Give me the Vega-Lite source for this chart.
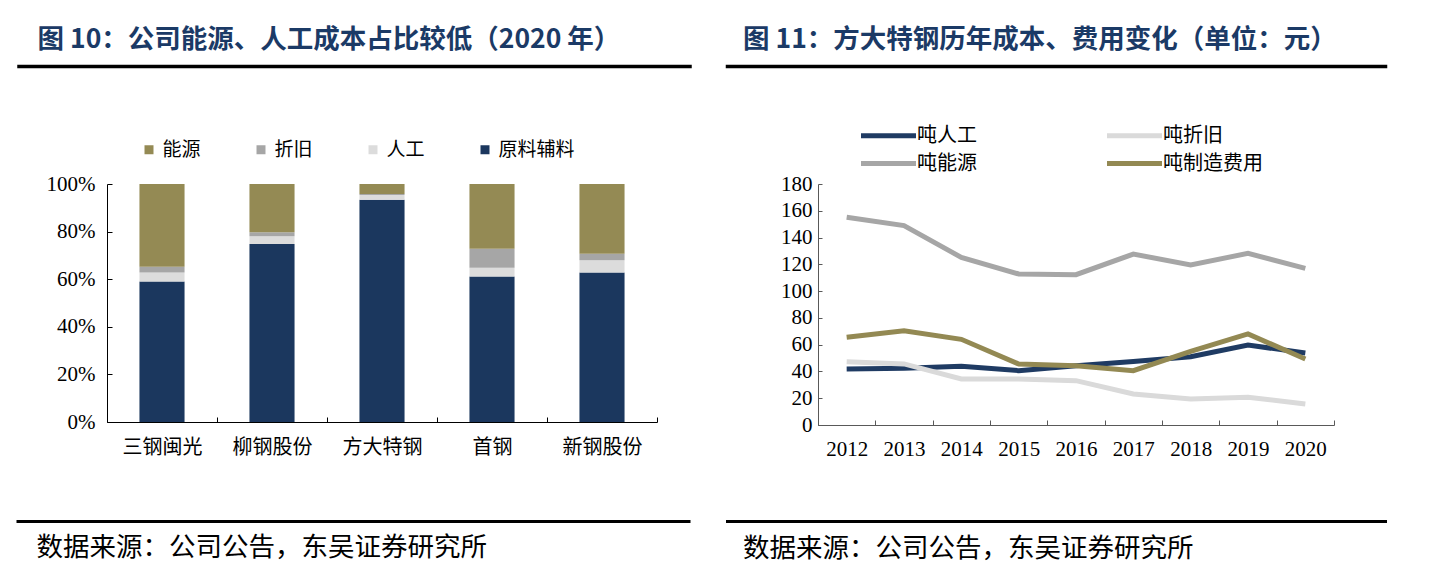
{
  "$schema": "https://vega.github.io/schema/vega-lite/v6.json",
  "background": "white",
  "padding": {"left": 0, "top": 25, "right": 5, "bottom": 5},
  "config": {
    "view": {"stroke": null},
    "font": "Noto Sans CJK SC",
    "axis": {"grid": false, "domainColor": "#000", "tickColor": "#000", "labelColor": "#000"}
  },
  "datasets": {
    "bars": [
      {"company": "三钢闽光", "part": "原料辅料", "pct": 59.0},
      {"company": "三钢闽光", "part": "人工", "pct": 3.8},
      {"company": "三钢闽光", "part": "折旧", "pct": 2.4},
      {"company": "三钢闽光", "part": "能源", "pct": 34.8},
      {"company": "柳钢股份", "part": "原料辅料", "pct": 74.8},
      {"company": "柳钢股份", "part": "人工", "pct": 3.2},
      {"company": "柳钢股份", "part": "折旧", "pct": 1.7},
      {"company": "柳钢股份", "part": "能源", "pct": 20.3},
      {"company": "方大特钢", "part": "原料辅料", "pct": 93.4},
      {"company": "方大特钢", "part": "人工", "pct": 2.0},
      {"company": "方大特钢", "part": "折旧", "pct": 0.4},
      {"company": "方大特钢", "part": "能源", "pct": 4.2},
      {"company": "首钢", "part": "原料辅料", "pct": 61.1},
      {"company": "首钢", "part": "人工", "pct": 3.7},
      {"company": "首钢", "part": "折旧", "pct": 8.0},
      {"company": "首钢", "part": "能源", "pct": 27.2},
      {"company": "新钢股份", "part": "原料辅料", "pct": 62.8},
      {"company": "新钢股份", "part": "人工", "pct": 5.2},
      {"company": "新钢股份", "part": "折旧", "pct": 2.7},
      {"company": "新钢股份", "part": "能源", "pct": 29.3}
    ],
    "lines": [
      {"year": 2012, "series": "吨人工", "value": 41.8},
      {"year": 2013, "series": "吨人工", "value": 42.3},
      {"year": 2014, "series": "吨人工", "value": 43.8},
      {"year": 2015, "series": "吨人工", "value": 40.6},
      {"year": 2016, "series": "吨人工", "value": 44.3},
      {"year": 2017, "series": "吨人工", "value": 47.5},
      {"year": 2018, "series": "吨人工", "value": 51.0},
      {"year": 2019, "series": "吨人工", "value": 59.7},
      {"year": 2020, "series": "吨人工", "value": 53.8},
      {"year": 2012, "series": "吨折旧", "value": 47.3},
      {"year": 2013, "series": "吨折旧", "value": 45.6},
      {"year": 2014, "series": "吨折旧", "value": 34.4},
      {"year": 2015, "series": "吨折旧", "value": 34.4},
      {"year": 2016, "series": "吨折旧", "value": 33.1},
      {"year": 2017, "series": "吨折旧", "value": 23.2},
      {"year": 2018, "series": "吨折旧", "value": 19.4},
      {"year": 2019, "series": "吨折旧", "value": 20.7},
      {"year": 2020, "series": "吨折旧", "value": 15.7},
      {"year": 2012, "series": "吨能源", "value": 155.1},
      {"year": 2013, "series": "吨能源", "value": 148.9},
      {"year": 2014, "series": "吨能源", "value": 125.2},
      {"year": 2015, "series": "吨能源", "value": 112.8},
      {"year": 2016, "series": "吨能源", "value": 112.3},
      {"year": 2017, "series": "吨能源", "value": 127.7},
      {"year": 2018, "series": "吨能源", "value": 119.5},
      {"year": 2019, "series": "吨能源", "value": 128.2},
      {"year": 2020, "series": "吨能源", "value": 117.0},
      {"year": 2012, "series": "吨制造费用", "value": 65.5},
      {"year": 2013, "series": "吨制造费用", "value": 70.4},
      {"year": 2014, "series": "吨制造费用", "value": 64.0},
      {"year": 2015, "series": "吨制造费用", "value": 45.6},
      {"year": 2016, "series": "吨制造费用", "value": 44.3},
      {"year": 2017, "series": "吨制造费用", "value": 40.6},
      {"year": 2018, "series": "吨制造费用", "value": 55.0},
      {"year": 2019, "series": "吨制造费用", "value": 68.0},
      {"year": 2020, "series": "吨制造费用", "value": 49.3}
    ]
  },
  "spacing": 47,
  "resolve": {"scale": {"color": "independent"}, "legend": {"color": "independent"}},
  "vconcat": [
    {
      "columns": 3,
      "align": "none",
      "spacing": 15.5,
      "concat": [
        {"width": 1, "height": 1, "data": {"values": []}, "mark": "point", "encoding": {}},
        {
          "width": 672, "height": 1,
          "data": {"values": [{}]},
          "mark": {"type": "text"},
          "encoding": {"text": {"value": ""}, "y": {"datum": 0, "type": "quantitative", "axis": {"orient": "right", "domain": false, "ticks": false, "labels": false, "grid": false, "title": "|", "titleColor": "white", "titleFontSize": 10, "titlePadding": 0, "minExtent": 7}}},
          "view": {"stroke": "#000", "strokeWidth": 2.5, "fill": null},
          "title": {"text": "图 10：公司能源、人工成本占比较低（2020 年）", "anchor": "start", "orient": "top", "frame": "group", "dx": 19, "offset": 7, "fontSize": 26.5, "fontWeight": "bold", "color": "#1B3A66", "font": "Noto Sans CJK SC"}
        },
        {
          "width": 659, "height": 1,
          "data": {"values": [{}]},
          "mark": {"type": "text"},
          "encoding": {"text": {"value": ""}},
          "view": {"stroke": "#000", "strokeWidth": 2.5, "fill": null},
          "title": {"text": "图 11：方大特钢历年成本、费用变化（单位：元）", "anchor": "start", "orient": "top", "frame": "group", "dx": 16, "offset": 7, "fontSize": 26.5, "fontWeight": "bold", "color": "#1B3A66", "font": "Noto Sans CJK SC"}
        }
      ]
    },
    {
      "columns": 3,
      "align": "none",
      "spacing": 17,
      "resolve": {"scale": {"color": "independent"}, "legend": {"color": "independent"}},
      "concat": [
        {"width": 1, "height": 1, "data": {"values": []}, "mark": "point", "encoding": {}},
        {
          "width": 550, "height": 238,
          "data": {"name": "bars"},
          "title": {"text": "|", "orient": "right", "frame": "group", "color": "white", "fontSize": 10, "offset": 42},
          "transform": [{"calculate": "indexof(['原料辅料','人工','折旧','能源'], datum.part)", "as": "ord"}],
          "mark": {"type": "bar", "width": {"band": 0.41}},
          "encoding": {
            "x": {"field": "company", "type": "nominal", "sort": null,
              "scale": {"paddingInner": 0, "paddingOuter": 0},
              "axis": {"title": "|", "titleColor": "white", "titleFontSize": 7.5, "titlePadding": 0, "labelAngle": 0, "tickBand": "extent", "tickSize": -5, "labelPadding": 20, "labelFontSize": 20, "labelFont": "Noto Sans CJK SC"}},
            "y": {"field": "pct", "type": "quantitative", "stack": "normalize",
              "scale": {"domain": [0, 1]},
              "axis": {"values": [0, 0.2, 0.4, 0.6, 0.8, 1], "format": ".0%", "tickSize": -5, "labelPadding": 17, "labelFont": "Liberation Serif", "labelFontSize": 21, "title": "|", "titleColor": "white", "titleFontSize": 10, "titlePadding": 0, "minExtent": 79}},
            "color": {"field": "part", "type": "nominal",
              "scale": {"domain": ["能源", "折旧", "人工", "原料辅料"], "range": ["#948A54", "#A6A6A6", "#DCDCDC", "#1B375E"]},
              "legend": {"title": null, "orient": "none", "legendX": 13, "legendY": -63.5, "padding": 19.5, "direction": "horizontal", "columns": 4, "gridAlign": "all", "columnPadding": 12, "symbolType": "square", "symbolSize": 81, "labelFontSize": 19, "labelFont": "Noto Sans CJK SC", "labelColor": "#000"}},
            "order": {"field": "ord", "type": "quantitative"}
          }
        },
        {
          "width": 516, "height": 241,
          "data": {"name": "lines"},
          "mark": {"type": "line", "strokeWidth": 5},
          "encoding": {
            "x": {"field": "year", "type": "ordinal",
              "scale": {"type": "band", "paddingInner": 0, "paddingOuter": 0},
              "axis": {"title": "|", "titleColor": "white", "titleFontSize": 7.5, "titlePadding": 0, "labelAngle": 0, "tickBand": "extent", "tickSize": -5, "labelPadding": 18, "labelFontSize": 21, "labelFont": "Liberation Serif", "domainColor": "#595959", "tickColor": "#595959"}},
            "y": {"field": "value", "type": "quantitative",
              "scale": {"domain": [0, 180]},
              "axis": {"values": [0, 20, 40, 60, 80, 100, 120, 140, 160, 180], "tickSize": -4, "labelPadding": 10, "labelFont": "Liberation Serif", "labelFontSize": 21, "domainColor": "#595959", "tickColor": "#595959", "title": "|", "titleColor": "white", "titleFontSize": 10, "titlePadding": 0, "minExtent": 81}},
            "color": {"field": "series", "type": "nominal",
              "scale": {"domain": ["吨人工", "吨折旧", "吨能源", "吨制造费用"], "range": ["#1F3B63", "#DADADA", "#A6A6A6", "#938953"]},
              "legend": {"title": null, "orient": "none", "legendX": 57, "legendY": -62, "direction": "horizontal", "columns": 2, "columnPadding": 120, "rowPadding": 4, "symbolType": "M-2.5,0H2.5", "symbolSize": 484, "symbolStrokeWidth": 5, "labelOffset": 15, "labelFontSize": 20, "labelFont": "Noto Sans CJK SC", "labelColor": "#000"}}
          }
        }
      ]
    },
    {
      "columns": 3,
      "align": "none",
      "spacing": 15.5,
      "concat": [
        {"width": 1, "height": 1, "data": {"values": []}, "mark": "point", "encoding": {}},
        {
          "width": 672, "height": 1,
          "data": {"values": [{}]},
          "mark": {"type": "text"},
          "encoding": {"text": {"value": ""}, "y": {"datum": 0, "type": "quantitative", "axis": {"orient": "right", "domain": false, "ticks": false, "labels": false, "grid": false, "title": "|", "titleColor": "white", "titleFontSize": 10, "titlePadding": 0, "minExtent": 10}}},
          "view": {"stroke": "#000", "strokeWidth": 2, "fill": null},
          "title": {"text": "数据来源：公司公告，东吴证券研究所", "anchor": "start", "orient": "bottom", "frame": "group", "dx": 19, "offset": 9, "fontSize": 26.5, "fontWeight": "normal", "color": "#000", "font": "Noto Sans CJK SC"}
        },
        {
          "width": 659, "height": 1,
          "data": {"values": [{}]},
          "mark": {"type": "text"},
          "encoding": {"text": {"value": ""}},
          "view": {"stroke": "#000", "strokeWidth": 2, "fill": null},
          "title": {"text": "数据来源：公司公告，东吴证券研究所", "anchor": "start", "orient": "bottom", "frame": "group", "dx": 16, "offset": 9, "fontSize": 26.5, "fontWeight": "normal", "color": "#000", "font": "Noto Sans CJK SC"}
        }
      ]
    }
  ]
}
